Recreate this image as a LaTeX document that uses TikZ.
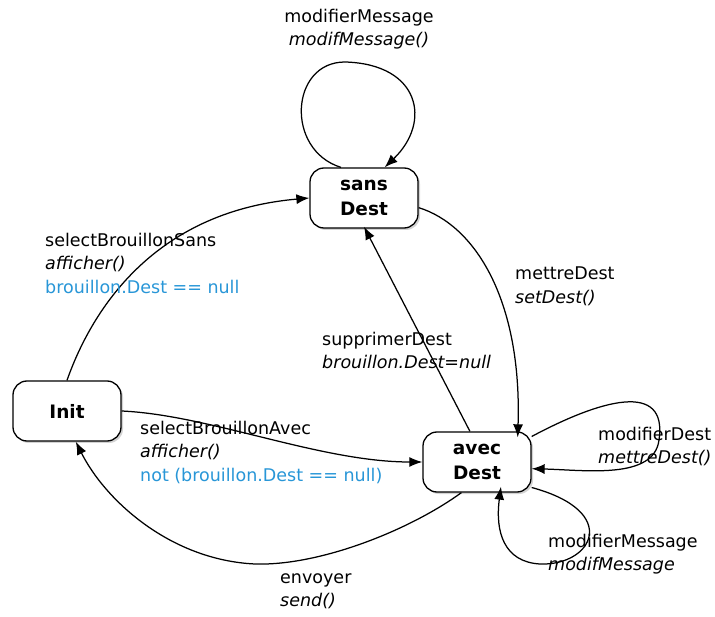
\documentclass[tikz,border=0pt]{standalone}
\usepackage{fontspec}
\setmainfont{DejaVu Sans}
\usetikzlibrary{arrows.meta,shadows}
\definecolor{guardblue}{RGB}{40,150,215}

\begin{document}
\begin{tikzpicture}[
  x=1pt, y=-1pt,
  font=\fontsize{17.5}{23.5}\selectfont,
  >={Latex[length=13pt,width=10pt]},
  state/.style={draw, line width=1.3pt, rounded corners=14pt, fill=white, minimum width=108pt, minimum height=60pt, align=center, font=\fontsize{18.5}{25}\selectfont\bfseries, drop shadow={opacity=0.35, shadow xshift=2pt, shadow yshift=-2pt}},
  trans/.style={->, line width=1.25pt},
  lbl/.style={align=left, inner sep=0pt, anchor=north west},
]
\useasboundingbox (0,0) rectangle (715,617);

% States
\node[state] (sansdest) at (364,198) {sans\\Dest};
\node[state] (init) at (67,411) {Init};
\node[state] (avecdest) at (477,462) {avec\\Dest};

% ========== transitions ==========
% loop on sans Dest
\draw[trans] (sansdest.127) .. controls (285,150) and (290,62) .. (345,62)
  .. controls (420,64) and (432,122) .. (sansdest.56);
\node[lbl, align=center, anchor=north] (lbltop) at (359,9) {modifierMessage\\\textit{modifMessage()}};

% Init -> sans Dest
\draw[trans] (init.north) .. controls (90,315) and (150,212) .. (sansdest.west);
\node[lbl] (lblsans) at (45,233) {selectBrouillonSans\\\textit{afficher()}\\\textcolor{guardblue}{brouillon.Dest == null}};

% sans Dest -> avec Dest
\draw[trans] (sansdest.-10) .. controls (475,225) and (522,300) .. ([yshift=-6pt]avecdest.37);
\node[lbl] (lblmettre) at (515,267) {mettreDest\\\textit{setDest()}};

% avec Dest -> sans Dest
\draw[trans] (avecdest.103) -- ([yshift=2pt]sansdest.south);
\node[lbl] (lblsuppr) at (322,332) {supprimerDest\\\textit{brouillon.Dest=null}};

% Init -> avec Dest
\draw[trans] (init.east) .. controls (210,415) and (320,462) .. (avecdest.west);
\node[lbl] (lblavec) at (140,421) {selectBrouillonAvec\\\textit{afficher()}\\\textcolor{guardblue}{not (brouillon.Dest == null)}};

% avec Dest -> Init
\draw[trans] (avecdest.-117) .. controls (410,530) and (320,566) .. (255,564)
  .. controls (170,560) and (105,500) .. (init.-74);
\node[lbl] (lblsend) at (280,573) {envoyer\\\textit{send()}};

% loop right of avec Dest
\draw[trans] (avecdest.25) .. controls (600,400) and (668,380) .. (659,440)
  .. controls (654,480) and (585,470) .. (avecdest.-7);
\node[lbl] (lbldest) at (598,427) {modifierDest\\\textit{mettreDest()}};

% loop below avec Dest
\draw[trans] (avecdest.-25) .. controls (622,512) and (592,566) .. (540,564)
  .. controls (504,562) and (495,532) .. ([yshift=6pt]avecdest.-52);
\node[lbl] (lblmsg) at (548,534) {modifierMessage\\\textit{modifMessage}};

\end{tikzpicture}
\end{document}
